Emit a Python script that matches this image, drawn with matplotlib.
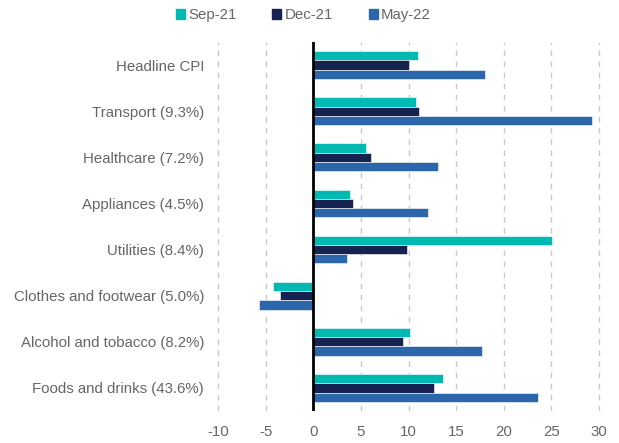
import numpy as np
import matplotlib.pyplot as plt
from matplotlib.patches import Patch

categories = ['Headline CPI', 'Transport (9.3%)', 'Healthcare (7.2%)', 'Appliances (4.5%)',
              'Utilities (8.4%)', 'Clothes and footwear (5.0%)', 'Alcohol and tobacco (8.2%)',
              'Foods and drinks (43.6%)']
sep21 = [11.0, 10.8, 5.5, 3.9, 25.1, -4.2, 10.2, 13.6]
dec21 = [10.0, 11.1, 6.1, 4.2, 9.8, -3.5, 9.4, 12.7]
may22 = [18.0, 29.3, 13.1, 12.0, 3.5, -5.7, 17.7, 23.6]
series = ['Sep-21', 'Dec-21', 'May-22']
colors = ['#00B9B1', '#16224F', '#2C66AB']

plt.rcParams['font.family'] = ['Liberation Sans', 'DejaVu Sans']
plt.rcParams['axes.unicode_minus'] = False
grey = '#666666'
fs = 10.8

fig = plt.figure(figsize=(6.19, 4.43), dpi=100)
ax = fig.add_axes([0.3476, 0.0722, 0.6249, 0.833])

y = np.arange(len(categories))
h = 0.2
for i, (vals, c) in enumerate(zip([sep21, dec21, may22], colors)):
    ax.barh(y + (i - 1) * h, vals, height=h, color=c, edgecolor='white', linewidth=0.4, zorder=3)

ax.set_xlim(-10.3, 30.3)
ax.set_ylim(7.5, -0.5)
ax.set_xticks(np.arange(-10, 31, 5))
ax.set_yticks(y)
ax.set_yticklabels(categories)
ax.tick_params(length=0, labelsize=fs, colors=grey)
ax.tick_params(axis='y', pad=8)
ax.tick_params(axis='x', pad=10)

for xv in np.arange(-10, 31, 5):
    if xv != 0:
        ax.axvline(xv, color='#C8C8C8', linestyle=(0, (4, 4)), linewidth=1, zorder=1)
ax.axvline(0, color='black', linewidth=2, zorder=4)

for s in ax.spines.values():
    s.set_visible(False)

handles = [Patch(color=c, label=s) for s, c in zip(series, colors)]
fig.legend(handles=handles, loc='upper center', bbox_to_anchor=(0.49, 1.012), ncol=3,
           frameon=False, fontsize=fs, handlelength=0.6, handleheight=0.6,
           handletextpad=0.2, columnspacing=2.4, labelcolor=grey)

fig.savefig('out.png', dpi=100)
